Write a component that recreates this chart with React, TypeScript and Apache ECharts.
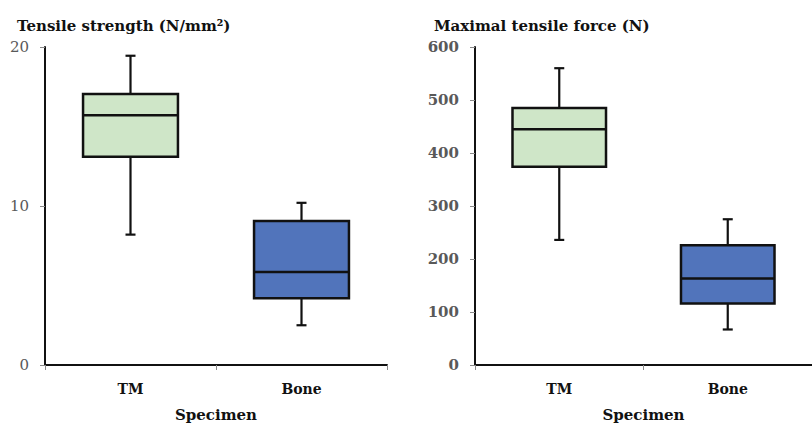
import React, { useEffect, useRef } from "react";
import * as echarts from "echarts";

const categories = ["TM", "Bone"];
// [min, Q1, median, Q3, max]
const tensileStrength = [
  [8.2, 13.1, 15.7, 17.05, 19.45],
  [2.5, 4.2, 5.85, 9.05, 10.2],
];
const maxTensileForce = [
  [236, 374, 445, 485, 560],
  [67, 116, 163, 226, 275],
];
const boxColors = ["#cfe6c8", "#5174bb"];
const titles = ["Tensile strength (N/mm²)", "Maximal tensile force (N)"];
const xName = "Specimen";

const SERIF = "'DejaVu Serif', 'Liberation Serif', serif";

function renderBox(params: any, api: any) {
  const idx = api.value(0);
  const vals = [1, 2, 3, 4, 5].map((i) => api.value(i));
  const pts = vals.map((v) => api.coord([idx, v]));
  const x = pts[0][0];
  const [yMin, yQ1, yMed, yQ3, yMax] = pts.map((p: number[]) => p[1]);
  const bw = api.size([1, 0])[0] * 0.555;
  const cap = 10;
  const stroke = "#111";
  const lw = 2.2;
  return {
    type: "group",
    children: [
      { type: "line", shape: { x1: x, y1: yMax, x2: x, y2: yQ3 }, style: { stroke, lineWidth: lw } },
      { type: "line", shape: { x1: x, y1: yQ1, x2: x, y2: yMin }, style: { stroke, lineWidth: lw } },
      { type: "line", shape: { x1: x - cap / 2, y1: yMax, x2: x + cap / 2, y2: yMax }, style: { stroke, lineWidth: lw } },
      { type: "line", shape: { x1: x - cap / 2, y1: yMin, x2: x + cap / 2, y2: yMin }, style: { stroke, lineWidth: lw } },
      {
        type: "rect",
        shape: { x: x - bw / 2, y: yQ3, width: bw, height: yQ1 - yQ3 },
        style: { fill: boxColors[idx], stroke, lineWidth: lw + 0.3 },
      },
      { type: "line", shape: { x1: x - bw / 2, y1: yMed, x2: x + bw / 2, y2: yMed }, style: { stroke, lineWidth: lw + 0.3 } },
    ],
  };
}

function makeAxis(gridIndex: number, max: number, interval: number, boldLabels: boolean) {
  return {
    type: "value",
    gridIndex,
    min: 0,
    max,
    interval,
    axisLine: { show: true, lineStyle: { color: "#111", width: 2 } },
    axisTick: { show: true, length: 5, lineStyle: { color: "#8a8a8a", width: 1 } },
    splitLine: { show: false },
    axisLabel: {
      color: "#595959",
      fontFamily: SERIF,
      fontSize: 15,
      fontWeight: boldLabels ? "bold" : "normal",
      margin: 16,
    },
  };
}

function makeXAxis(gridIndex: number) {
  return {
    type: "category",
    gridIndex,
    data: categories,
    boundaryGap: true,
    axisLine: { show: true, lineStyle: { color: "#111", width: 2 } },
    axisTick: { show: true, length: 5, lineStyle: { color: "#8a8a8a", width: 1 } },
    axisLabel: { color: "#111", fontFamily: SERIF, fontSize: 14, fontWeight: "bold", margin: 17 },
    name: xName,
    nameLocation: "middle",
    nameGap: 42,
    nameTextStyle: { color: "#111", fontFamily: SERIF, fontSize: 15, fontWeight: "bold" },
  };
}

export default function App() {
  const ref = useRef<HTMLDivElement>(null);
  useEffect(() => {
    if (!ref.current) return;
    const chart = echarts.init(ref.current, null, { renderer: "svg" });
    chart.setOption({
      animation: false,
      backgroundColor: "#ffffff",
      title: [
        { text: titles[0], left: 12, top: 13, textStyle: { fontFamily: SERIF, fontSize: 15, fontWeight: "bold", color: "#111" } },
        { text: titles[1], left: 429, top: 13, textStyle: { fontFamily: SERIF, fontSize: 15, fontWeight: "bold", color: "#111" } },
      ],
      grid: [
        { left: 45, top: 47, width: 342, height: 322 },
        { left: 475, top: 47, width: 340, height: 322 },
      ],
      xAxis: [makeXAxis(0), makeXAxis(1)],
      yAxis: [makeAxis(0, 20, 10, false), makeAxis(1, 600, 100, true)],
      series: [
        {
          type: "custom",
          xAxisIndex: 0,
          yAxisIndex: 0,
          renderItem: renderBox,
          encode: { x: 0, y: [1, 2, 3, 4, 5] },
          data: tensileStrength.map((v, i) => [i, ...v]),
        },
        {
          type: "custom",
          xAxisIndex: 1,
          yAxisIndex: 1,
          renderItem: renderBox,
          encode: { x: 0, y: [1, 2, 3, 4, 5] },
          data: maxTensileForce.map((v, i) => [i, ...v]),
        },
      ],
    });
    return () => chart.dispose();
  }, []);
  return <div ref={ref} style={{ width: 812, height: 427, position: "absolute", left: 0, top: 0 }} />;
}
